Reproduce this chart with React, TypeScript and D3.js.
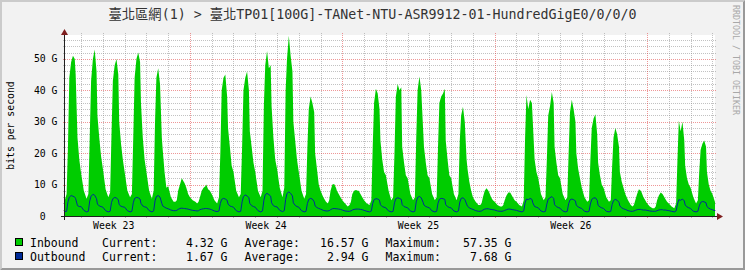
import React, { useEffect } from "react";
import * as d3 from "d3";

// ---------- data (values in G bits/s) ----------
// sample hours within each day
const HOURS = [0, 3, 6, 8, 9.5, 11, 13, 15, 17, 18, 20, 22];
const FIRST_DAY = -1; // first row below is day -1 (partially visible)

const inboundByDay: number[][] = [
  [12, 8, 5, 7, 22, 44, 49, 51, 50, 45, 25, 18],
  [13.5, 8, 5.5, 7, 25, 43, 50, 53, 46, 32, 25, 19],
  [15, 8.5, 6, 7.5, 26, 43, 48, 50, 45, 30, 23, 18],
  [14, 8, 6, 7, 25, 44, 50, 52, 49, 36, 25, 18],
  [14, 8, 5.5, 8, 30, 44, 47, 42, 25, 21, 14, 9],
  [9.5, 6, 4.5, 4.5, 5, 8, 10, 12, 11, 10.5, 9, 7],
  [6, 5, 4.5, 4, 4.5, 6, 8, 9, 9.5, 10, 8.5, 8],
  [7, 5, 4, 6, 20, 40, 44, 45, 38, 28, 22, 16],
  [14, 8, 6, 7, 22, 40, 44, 46, 40, 27, 22, 17],
  [14, 8, 6, 8, 35, 48, 52.5, 47, 48, 35, 25, 18],
  [15, 9, 6, 9, 40, 50, 57.35, 51, 46, 30, 24, 18],
  [14, 8, 5.5, 7, 22, 34, 38, 36, 33, 20, 15, 10],
  [8, 6, 4.5, 4, 5, 8, 10, 10.2, 9, 8, 7, 6],
  [5, 4, 3, 3.5, 4.5, 7, 8, 8.3, 8, 8, 7, 6],
  [5, 4, 3.5, 5, 22, 36, 40.5, 39, 34, 24, 18, 14],
  [13, 8, 5, 6, 20, 38, 42, 40, 41, 22, 17, 13],
  [12, 7, 5, 6, 25, 40, 44.4, 40, 28, 22, 17, 13],
  [12, 7, 5, 6, 22, 36, 38, 39, 40.5, 24, 18, 13],
  [12, 7, 5, 7, 24, 32, 34.8, 30, 18, 15, 11, 8],
  [6, 4.5, 3.5, 3.5, 4, 6, 8, 8.8, 8, 7.5, 6, 5],
  [4.5, 3.5, 3, 3, 3.5, 5, 6.5, 7.5, 7.5, 7, 6, 5],
  [4.5, 3.5, 3, 5, 25, 38.5, 34, 37, 36, 30, 18, 14],
  [12, 7, 5, 6, 18, 32, 35, 39.5, 36, 22, 17, 13],
  [12, 7, 5, 6, 20, 33, 37, 34, 30, 20, 15, 12],
  [9, 6, 4.5, 5, 18, 28, 31, 32.4, 26, 17, 13, 10],
  [9, 6, 4.5, 5, 16, 25, 28, 26, 22, 14, 11, 9],
  [7, 5, 3.5, 3, 3.5, 5, 7, 8.5, 8, 7.5, 6, 5],
  [4, 3, 2.5, 2.5, 3, 5, 6.5, 7.5, 7, 6.5, 5.5, 4.5],
  [4, 3, 2.5, 4, 18, 30.4, 27, 30, 24, 16, 12, 10],
  [9, 6, 4, 5, 14, 21, 23, 24, 22, 14, 10, 8],
  [7, 4.32],
];

const outboundByDay: number[][] = [
  [2.5, 1.6, 1.4, 1.5, 4.5, 6.0, 6.5, 6.3, 6.0, 5.5, 3.3, 3.0],
  [3.0, 1.8, 1.3, 1.5, 4.8, 6.3, 6.9, 6.6, 5.5, 3.8, 3.2, 3.0],
  [2.8, 1.7, 1.3, 1.5, 4.3, 5.5, 5.9, 5.7, 5.2, 3.6, 3.1, 2.9],
  [2.8, 1.7, 1.3, 1.5, 4.2, 5.6, 5.9, 5.8, 5.4, 4.0, 3.2, 2.9],
  [2.8, 1.7, 1.3, 1.6, 4.8, 6.2, 6.5, 6.0, 4.0, 3.2, 2.8, 2.5],
  [2.3, 1.9, 1.7, 1.7, 1.8, 2.1, 2.4, 2.5, 2.4, 2.4, 2.3, 2.2],
  [2.0, 1.8, 1.7, 1.6, 1.7, 2.0, 2.2, 2.3, 2.4, 2.4, 2.3, 2.2],
  [2.0, 1.6, 1.4, 1.6, 4.0, 5.3, 5.6, 5.4, 5.0, 3.8, 3.2, 3.0],
  [2.8, 1.7, 1.3, 1.5, 4.5, 6.2, 6.7, 6.4, 5.8, 4.0, 3.3, 3.0],
  [2.8, 1.7, 1.3, 1.6, 5.0, 6.8, 7.2, 6.8, 6.3, 4.2, 3.3, 3.0],
  [2.9, 1.8, 1.4, 1.7, 5.2, 7.2, 7.68, 7.2, 6.4, 4.2, 3.4, 3.0],
  [2.8, 1.7, 1.3, 1.5, 4.0, 5.3, 5.6, 5.4, 4.5, 3.2, 2.7, 2.4],
  [2.2, 1.8, 1.6, 1.6, 1.7, 2.0, 2.3, 2.4, 2.3, 2.3, 2.2, 2.1],
  [1.9, 1.6, 1.5, 1.5, 1.6, 1.9, 2.1, 2.2, 2.2, 2.2, 2.1, 2.0],
  [1.8, 1.5, 1.3, 1.6, 4.0, 5.2, 5.5, 5.4, 5.0, 3.6, 3.0, 2.8],
  [2.6, 1.6, 1.3, 1.5, 4.2, 5.5, 5.8, 5.6, 5.3, 3.6, 3.0, 2.8],
  [2.6, 1.6, 1.3, 1.5, 4.5, 5.9, 6.2, 5.8, 4.4, 3.5, 3.0, 2.8],
  [2.6, 1.6, 1.3, 1.5, 4.1, 5.3, 5.6, 5.5, 5.3, 3.6, 3.0, 2.7],
  [2.6, 1.6, 1.3, 1.6, 4.4, 5.6, 5.8, 5.3, 3.8, 3.1, 2.6, 2.3],
  [2.1, 1.7, 1.5, 1.5, 1.6, 1.9, 2.2, 2.3, 2.3, 2.2, 2.1, 2.0],
  [1.9, 1.6, 1.5, 1.5, 1.6, 1.8, 2.0, 2.2, 2.2, 2.1, 2.0, 1.9],
  [1.8, 1.5, 1.3, 1.6, 4.2, 5.4, 5.2, 5.6, 5.3, 4.2, 3.0, 2.8],
  [2.6, 1.6, 1.3, 1.5, 3.8, 5.4, 5.8, 6.2, 5.6, 3.6, 3.0, 2.7],
  [2.5, 1.6, 1.3, 1.5, 3.9, 5.1, 5.4, 5.2, 4.8, 3.4, 2.9, 2.6],
  [2.4, 1.5, 1.3, 1.5, 3.8, 5.3, 5.7, 5.8, 5.0, 3.4, 2.9, 2.6],
  [2.4, 1.5, 1.3, 1.5, 3.7, 4.9, 5.3, 5.0, 4.4, 3.2, 2.6, 2.3],
  [2.1, 1.7, 1.5, 1.5, 1.6, 1.8, 2.0, 2.1, 2.1, 2.0, 1.9, 1.9],
  [1.8, 1.6, 1.5, 1.5, 1.5, 1.7, 1.9, 2.0, 2.0, 1.9, 1.9, 1.8],
  [1.7, 1.5, 1.3, 1.6, 3.8, 5.2, 5.0, 5.4, 4.8, 3.5, 2.9, 2.6],
  [2.4, 1.5, 1.3, 1.5, 3.2, 4.3, 4.6, 4.5, 4.2, 3.0, 2.5, 2.2],
  [2.0, 1.67],
];

const yTicks = [0, 10, 20, 30, 40, 50];
const yTickLabels = ["0  ", "10 G", "20 G", "30 G", "40 G", "50 G"];
const weekStartDays = [5, 12, 19, 26];
const weekLabelDays = [1.5, 8.5, 15.5, 22.5];
const weekLabels = ["Week 23", "Week 24", "Week 25", "Week 26"];

const legendNames = ["Inbound", "Outbound"];
const legendCurrent = ["4.32 G", "1.67 G"];
const legendAverage = ["16.57 G", "2.94 G"];
const legendMaximum = ["57.35 G", "7.68 G"];

const TITLE = "臺北區網(1) > 臺北TP01[100G]-TANet-NTU-ASR9912-01-HundredGigE0/0/0/0";

// ---------- layout ----------
const W = 745;
const H = 270;
const PL = 65;
const PR = 715;
const PT = 35;
const PB = 216;
const DAY_START = -0.74;
const DAY_END = 29.12;
const Y_MAX = 57.6;

const C_IN = "#00CC00";
const C_OUT = "#002A97";
const MONO = "'DejaVu Sans Mono', 'Noto Sans CJK TC', monospace";

type P = { t: number; v: number };

function flatten(rows: number[][]): P[] {
  const out: P[] = [];
  rows.forEach((row, i) => {
    row.forEach((v, j) => {
      out.push({ t: FIRST_DAY + i + HOURS[j] / 24, v });
    });
  });
  return out;
}

export default function App() {
  useEffect(() => {
    document.body.style.margin = "0";
  }, []);

  const x = d3.scaleLinear().domain([DAY_START, DAY_END]).range([PL, PR]);
  const y = d3.scaleLinear().domain([0, Y_MAX]).range([PB, PT]);

  const inPts = flatten(inboundByDay);
  const outPts = flatten(outboundByDay);

  const area = d3
    .area<P>()
    .x((p) => x(p.t))
    .y0(PB)
    .y1((p) => y(p.v));
  const line = d3
    .line<P>()
    .x((p) => x(p.t))
    .y((p) => y(p.v));

  const minorY = d3.range(2, Y_MAX, 2).filter((v) => v % 10 !== 0);
  const majorY = yTicks.filter((v) => v > 0);
  const days = d3.range(0, 30).filter((d) => x(d) > PL && x(d) < PR + 0.5);

  const gx = (d: number) => Math.round(x(d)) + 0.5;
  const gy = (v: number) => Math.round(y(v)) + 0.5;

  const gridGray = "rgba(143,143,143,0.55)";
  const gridRed = "rgba(222,48,48,0.5)";

  return (
    <svg
      width={W}
      height={H}
      viewBox={`0 0 ${W} ${H}`}
      style={{ position: "absolute", left: 0, top: 0, display: "block" }}
    >
      <defs>
        <clipPath id="plotclip">
          <rect x={PL} y={PT} width={PR - PL} height={PB - PT} />
        </clipPath>
      </defs>
      {/* background & shade border */}
      <rect x={0} y={0} width={W} height={H} fill="#F2F2F2" />
      <polygon points={`0,0 ${W},0 ${W - 2},2 2,2 2,${H - 2} 0,${H}`} fill="#CBCBCB" />
      <polygon points={`0,${H} ${W},${H} ${W},0 ${W - 2},2 ${W - 2},${H - 2} 2,${H - 2}`} fill="#999999" />

      {/* canvas */}
      <rect x={PL} y={PT} width={PR - PL} height={PB - PT} fill="#FFFFFF" />

      {/* grid */}
      <g shapeRendering="crispEdges">
        {minorY.map((v) => (
          <line key={"my" + v} x1={PL - 2} x2={PR + 2} y1={gy(v)} y2={gy(v)} stroke={gridGray} strokeDasharray="1,1" />
        ))}
        {days
          .filter((d) => !weekStartDays.includes(d))
          .map((d) => (
            <line key={"mx" + d} x1={gx(d)} x2={gx(d)} y1={PT - 2} y2={PB + 2} stroke={gridGray} strokeDasharray="1,1" />
          ))}
        {majorY.map((v) => (
          <line key={"My" + v} x1={PL - 2} x2={PR + 2} y1={gy(v)} y2={gy(v)} stroke={gridRed} strokeDasharray="1,1" />
        ))}
        {weekStartDays.map((d) => (
          <line key={"Mx" + d} x1={gx(d)} x2={gx(d)} y1={PT - 2} y2={PB + 2} stroke={gridRed} strokeDasharray="1,1" />
        ))}
      </g>

      {/* data */}
      <g clipPath="url(#plotclip)">
        <path d={area(inPts) || ""} fill={C_IN} />
        <path d={line(outPts) || ""} fill="none" stroke={C_OUT} strokeWidth={1} />
      </g>

      {/* axes */}
      <g shapeRendering="crispEdges">
        <line x1={PL - 4} x2={PR + 4} y1={PB + 0.5} y2={PB + 0.5} stroke="#202020" />
        <line x1={PL - 0.5} x2={PL - 0.5} y1={PB + 4} y2={PT - 4} stroke="#202020" />
      </g>
      <polygon points={`${PR + 2},${PB - 3} ${PR + 2},${PB + 4} ${PR + 8},${PB + 0.5}`} fill="#7F1F1F" />
      <polygon points={`${PL - 4},${PT} ${PL + 3},${PT} ${PL - 0.5},${PT - 6}`} fill="#7F1F1F" />

      {/* y labels */}
      {yTicks.map((v, i) => (
        <text
          key={"yl" + v}
          x={57.5}
          y={y(v) + 3.6}
          textAnchor="end"
          fontFamily={MONO}
          fontSize={9.8}
          fill="#000"
          xmlSpace="preserve"
          style={{ whiteSpace: "pre" }}
        >
          {yTickLabels[i]}
        </text>
      ))}

      {/* week labels */}
      {weekLabelDays.map((d, i) => (
        <text key={"wl" + i} x={x(d)} y={229} textAnchor="middle" fontFamily={MONO} fontSize={9.8} fill="#000">
          {weekLabels[i]}
        </text>
      ))}

      {/* y axis title */}
      <text
        transform={`translate(14,${(PT + PB) / 2}) rotate(-90)`}
        textAnchor="middle"
        fontFamily={MONO}
        fontSize={9.8}
        fill="#000"
      >
        bits per second
      </text>

      {/* title */}
      <text x={W / 2} y={19} textAnchor="middle" fontFamily={MONO} fontSize={13.3} fill="#333">
        {TITLE}
      </text>

      {/* watermark */}
      <text
        transform={`translate(733,5) rotate(90)`}
        fontFamily={MONO}
        fontSize={8.3}
        fill="#A8A8A8"
      >
        RRDTOOL / TOBI OETIKER
      </text>

      {/* legend */}
      {legendNames.map((name, i) => {
        const base = 247 + i * 14;
        const color = i === 0 ? C_IN : C_OUT;
        return (
          <g key={"lg" + i} fontFamily={MONO} fontSize={11.5} fill="#000">
            <rect x={15.5} y={base - 8.5} width={7} height={7} fill={color} stroke="#000" strokeWidth={1} />
            <text x={30} y={base}>{name}</text>
            <text x={102} y={base}>Current:</text>
            <text x={227.5} y={base} textAnchor="end">{legendCurrent[i]}</text>
            <text x={244.5} y={base}>Average:</text>
            <text x={368.5} y={base} textAnchor="end">{legendAverage[i]}</text>
            <text x={385.5} y={base}>Maximum:</text>
            <text x={511.5} y={base} textAnchor="end">{legendMaximum[i]}</text>
          </g>
        );
      })}
    </svg>
  );
}
